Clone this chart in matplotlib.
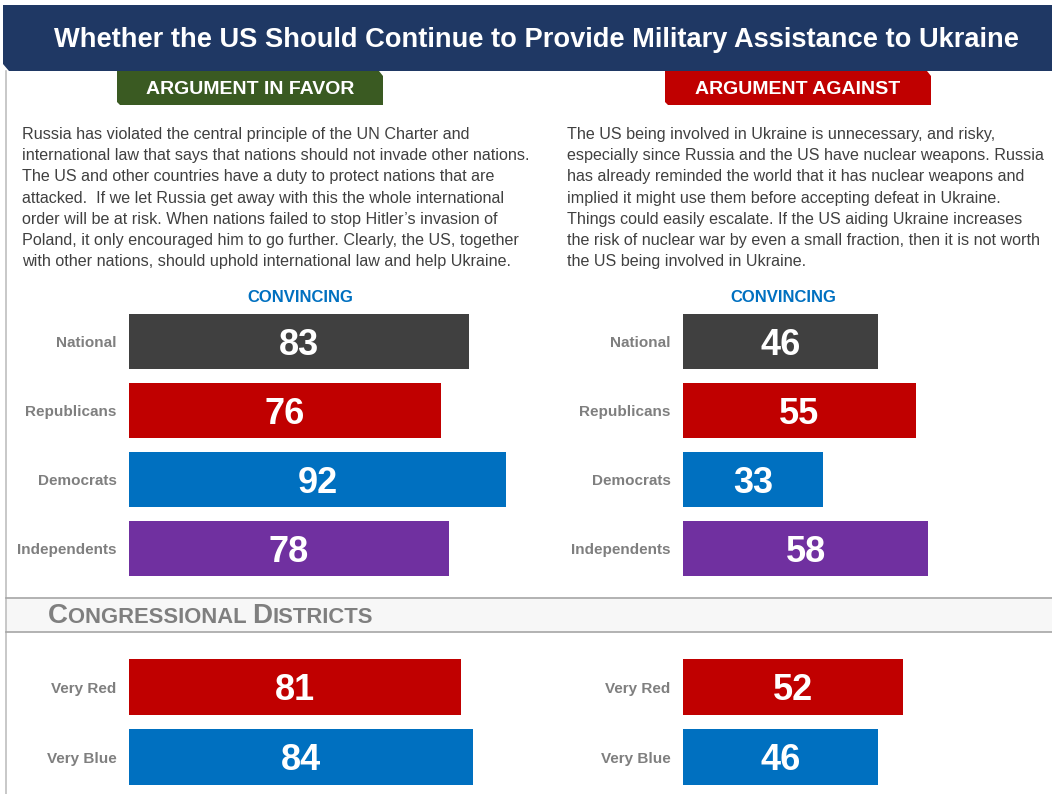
import matplotlib.pyplot as plt
from matplotlib.patches import Polygon, Rectangle

plt.rcParams['font.family'] = ['Liberation Sans', 'DejaVu Sans']

title = "Whether the US Should Continue to Provide Military Assistance to Ukraine"
groups = ["National", "Republicans", "Democrats", "Independents"]
favor = [83, 76, 92, 78]
against = [46, 55, 33, 58]
districts = ["Very Red", "Very Blue"]
favor_districts = [81, 84]
against_districts = [52, 46]

group_colors = ["#404040", "#c00000", "#0070c0", "#7030a0"]
district_colors = ["#c00000", "#0070c0"]

favor_text = ("Russia has violated the central principle of the UN Charter and\n"
              "international law that says that nations should not invade other nations.\n"
              "The US and other countries have a duty to protect nations that are\n"
              "attacked.  If we let Russia get away with this the whole international\n"
              "order will be at risk. When nations failed to stop Hitler\u2019s invasion of\n"
              "Poland, it only encouraged him to go further. Clearly, the US, together\n"
              "with other nations, should uphold international law and help Ukraine.")
against_text = ("The US being involved in Ukraine is unnecessary, and risky,\n"
                "especially since Russia and the US have nuclear weapons. Russia\n"
                "has already reminded the world that it has nuclear weapons and\n"
                "implied it might use them before accepting defeat in Ukraine.\n"
                "Things could easily escalate. If the US aiding Ukraine increases\n"
                "the risk of nuclear war by even a small fraction, then it is not worth\n"
                "the US being involved in Ukraine.")

W, H = 1052, 794
fig = plt.figure(figsize=(W / 100, H / 100), dpi=100)
fig.patch.set_facecolor("white")

# background axes in pixel coordinates for the decorations
bg = fig.add_axes([0, 0, 1, 1])
bg.set_xlim(0, W)
bg.set_ylim(H, 0)
bg.axis("off")

# title banner
bg.add_patch(Polygon([(3, 5), (W, 5), (W, 71), (9, 71), (3, 64)], closed=True,
                     facecolor="#1f3864", edgecolor="none"))
bg.text(536, 40, title, color="white", fontsize=19.6, fontweight="bold",
        ha="center", va="center")

# left frame line
bg.plot([6, 6], [71, H], color="#bfbfbf", lw=1.2)

# argument header tabs
def tab(x0, x1, color, label):
    bg.add_patch(Polygon([(x0, 71), (x1 - 4, 71), (x1, 76), (x1, 105), (x0 + 3, 105), (x0, 102)],
                         closed=True, facecolor=color, edgecolor="none"))
    bg.text((x0 + x1) / 2, 89, label, color="white", fontsize=14, fontweight="bold",
            ha="center", va="center")

tab(117, 383, "#3a5a22", "ARGUMENT IN FAVOR")
tab(665, 931, "#c00000", "ARGUMENT AGAINST")

# argument paragraphs
bg.text(22, 127, favor_text, color="#404040", fontsize=11.6, ha="left", va="top",
        linespacing=1.52)
bg.text(567, 127, against_text, color="#404040", fontsize=11.6, ha="left", va="top",
        linespacing=1.52)

bg.text(300, 298, "CONVINCING", color="#0070c0", fontsize=12, fontweight="bold",
        ha="center", va="center")
bg.text(783, 298, "CONVINCING", color="#0070c0", fontsize=12, fontweight="bold",
        ha="center", va="center")

# congressional districts band
bg.add_patch(Rectangle((6, 598), W - 6, 34, facecolor="#f7f7f7", edgecolor="none"))
bg.plot([6, W], [598, 598], color="#a6a6a6", lw=1.2)
bg.plot([6, W], [632, 632], color="#a6a6a6", lw=1.2)

# small caps header built from pieces
fig.canvas.draw()
renderer = fig.canvas.get_renderer()
x = 48
pieces = [("C", 20), ("ONGRESSIONAL ", 15.8), ("D", 20), ("ISTRICTS", 15.8)]
for s, fs in pieces:
    t = bg.text(x, 623, s, color="#7f7f7f", fontsize=fs, fontweight="bold",
                ha="left", va="baseline")
    bb = t.get_window_extent(renderer=renderer)
    x += bb.width


def bar_panel(left_px, top_px, bottom_px, px_per_unit, labels, values, colors):
    n = len(labels)
    width_px = 100 * px_per_unit
    ax = fig.add_axes([left_px / W, 1 - bottom_px / H, width_px / W, (bottom_px - top_px) / H])
    ax.barh(range(n), values, height=0.8, color=colors)
    ax.set_xlim(0, 100)
    ax.set_ylim(n - 0.5, -0.5)
    ax.set_yticks(range(n))
    ax.set_yticklabels(labels, fontsize=11, fontweight="bold", color="#7f7f7f")
    ax.tick_params(axis="y", length=0, pad=9)
    ax.set_xticks([])
    for sp in ax.spines.values():
        sp.set_visible(False)
    ax.patch.set_alpha(0)
    for i, v in enumerate(values):
        ax.text(v / 2, i, str(v), color="white", fontsize=26, fontweight="bold",
                ha="center", va="center_baseline")
    return ax


bar_panel(129, 307, 583, 4.1, groups, favor, group_colors)
bar_panel(683, 307, 583, 4.23, groups, against, group_colors)
bar_panel(129, 652, 792, 4.1, districts, favor_districts, district_colors)
bar_panel(683, 652, 792, 4.23, districts, against_districts, district_colors)

fig.savefig("out.png", dpi=100)
